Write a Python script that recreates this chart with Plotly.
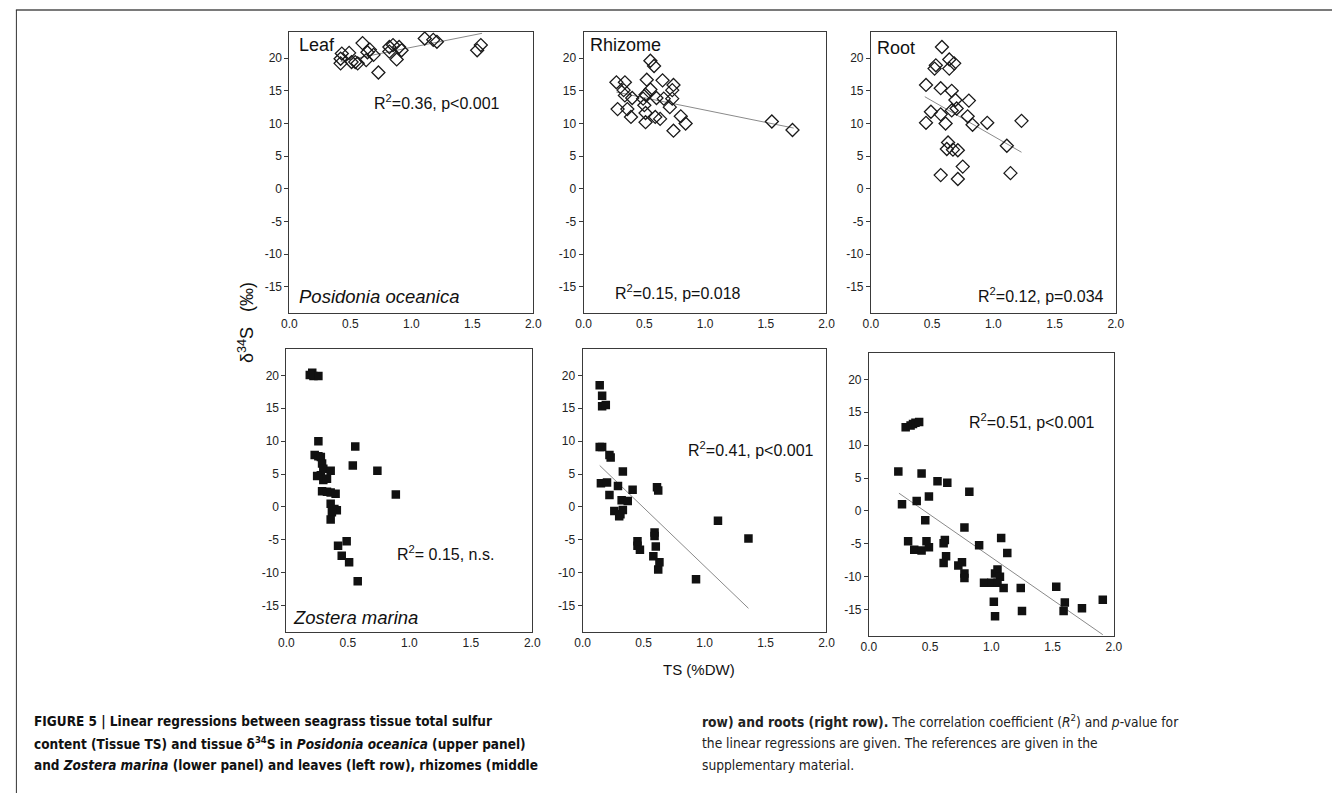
import plotly.graph_objects as go

W, H = 1341, 793

# ---------------- data ----------------
# Posidonia oceanica (open diamonds)
po_leaf_x = [0.43, 0.42, 0.42, 0.49, 0.51, 0.54, 0.60, 0.63, 0.66, 0.69, 0.73, 0.82, 0.82, 0.85, 0.88, 0.90, 0.92, 1.11, 1.18, 1.21, 1.54, 1.57, 0.56, 0.64]
po_leaf_y = [20.7, 19.2, 19.9, 20.8, 19.4, 19.4, 22.3, 19.7, 21.3, 20.5, 17.8, 21.7, 21.0, 22.0, 19.8, 21.7, 21.2, 23.0, 22.8, 22.5, 21.2, 22.0, 19.2, 20.9]
po_leaf_fit_x = [0.42, 1.58]
po_leaf_fit_y = [19.5, 23.8]

po_rhiz_x = [0.27, 0.34, 0.33, 0.34, 0.28, 0.36, 0.39, 0.40, 0.55, 0.58, 0.52, 0.55, 0.51, 0.49, 0.50, 0.51, 0.51, 0.59, 0.63, 0.60, 0.65, 0.66, 0.73, 0.74, 0.73, 0.71, 0.74, 0.80, 0.84, 1.55, 1.72]
po_rhiz_y = [16.3, 16.3, 15.1, 14.3, 12.2, 12.2, 11.0, 13.9, 19.6, 18.8, 16.7, 15.2, 14.4, 13.8, 12.8, 11.6, 10.2, 11.0, 10.7, 13.9, 16.6, 13.8, 15.1, 15.9, 13.8, 12.5, 8.9, 11.1, 10.0, 10.3, 9.0]
po_rhiz_fit_x = [0.27, 1.73]
po_rhiz_fit_y = [14.8, 9.3]

po_root_x = [0.58, 0.64, 0.68, 0.53, 0.52, 0.64, 0.45, 0.57, 0.66, 0.69, 0.80, 0.49, 0.45, 0.57, 0.61, 0.66, 0.70, 0.79, 0.83, 0.95, 1.23, 1.11, 0.63, 0.62, 0.67, 0.71, 0.75, 0.57, 0.71, 1.14]
po_root_y = [21.7, 19.8, 19.2, 18.9, 18.4, 18.4, 15.9, 15.4, 15.0, 13.6, 13.5, 11.8, 10.1, 11.4, 10.0, 12.0, 12.3, 11.1, 9.8, 10.1, 10.4, 6.6, 7.1, 6.1, 6.0, 5.9, 3.4, 2.1, 1.5, 2.4]
po_root_fit_x = [0.44, 1.23]
po_root_fit_y = [14.1, 5.6]

# Zostera marina (filled squares)
zm_leaf_x = [0.21, 0.22, 0.26, 0.19, 0.26, 0.56, 0.23, 0.26, 0.28, 0.29, 0.30, 0.28, 0.25, 0.30, 0.33, 0.36, 0.54, 0.74, 0.89, 0.29, 0.33, 0.36, 0.40, 0.36, 0.39, 0.41, 0.37, 0.36, 0.42, 0.49, 0.45, 0.51, 0.58]
zm_leaf_y = [20.4, 19.9, 19.9, 20.05, 10.0, 9.2, 7.9, 7.7, 7.6, 6.6, 5.8, 4.8, 4.7, 4.1, 4.3, 5.5, 6.3, 5.5, 1.9, 2.4, 2.3, 2.2, 2.0, 0.5, -0.3, -0.5, -0.8, -1.9, -5.9, -5.2, -7.4, -8.4, -11.3]

zm_rhiz_x = [0.14, 0.16, 0.16, 0.19, 0.14, 0.16, 0.22, 0.23, 0.15, 0.20, 0.33, 0.29, 0.22, 0.32, 0.37, 0.41, 0.26, 0.31, 0.33, 0.30, 0.61, 0.62, 0.45, 0.45, 0.47, 0.59, 0.59, 0.60, 0.58, 0.62, 0.63, 1.11, 1.36, 0.93]
zm_rhiz_y = [18.5, 16.9, 15.3, 15.5, 9.1, 9.1, 7.9, 7.5, 3.6, 3.7, 5.4, 3.2, 1.8, 1.0, 0.9, 2.6, -0.6, -1.1, -0.45, -1.4, 3.0, 2.5, -5.2, -5.9, -6.5, -3.9, -4.4, -6.0, -7.5, -9.5, -8.4, -2.1, -4.8, -11.0]
zm_rhiz_fit_x = [0.14, 1.36]
zm_rhiz_fit_y = [6.3, -15.4]

zm_root_x = [0.30, 0.34, 0.36, 0.38, 0.41, 0.24, 0.27, 0.43, 0.56, 0.64, 0.82, 0.39, 0.49, 0.46, 0.78, 0.32, 0.37, 0.43, 0.47, 0.49, 0.62, 0.61, 0.63, 0.61, 0.73, 0.76, 0.78, 0.78, 0.90, 1.08, 1.13, 0.94, 1.00, 1.03, 1.05, 1.07, 1.05, 1.10, 1.24, 1.02, 1.03, 1.25, 1.53, 1.60, 1.59, 1.74, 1.91]
zm_root_y = [12.7, 13.0, 13.2, 13.4, 13.5, 6.0, 1.0, 5.7, 4.5, 4.3, 2.9, 1.5, 2.2, -1.4, -2.5, -4.6, -5.9, -6.0, -4.6, -5.5, -4.4, -4.9, -6.9, -7.9, -8.3, -7.8, -9.5, -10.2, -5.2, -4.1, -6.4, -10.9, -10.9, -9.5, -8.9, -10.0, -10.9, -11.7, -11.7, -13.8, -16.0, -15.2, -11.5, -13.9, -15.2, -14.8, -13.5]
zm_root_fit_x = [0.245, 1.91]
zm_root_fit_y = [2.7, -18.8]

x_ticks = [0.0, 0.5, 1.0, 1.5, 2.0]
x_tick_labels = ["0.0", "0.5", "1.0", "1.5", "2.0"]
y_ticks = [-15, -10, -5, 0, 5, 10, 15, 20]
y_tick_labels = ["-15", "-10", "-5", "0", "5", "10", "15", "20"]

# ---------------- layout helpers ----------------
def px_x(v):
    return v / W

def px_y(v):
    return 1 - v / H

# panel boxes in pixels (left, right, top, bottom)
panels = [
    (285, 532, 32, 313),
    (583, 829, 32, 313),
    (874, 1122, 32, 313),
    (282, 531, 349, 632),
    (582, 829, 349, 632),
    (872, 1120, 353, 636),
]

FONT = "Liberation Sans"
AXC = "#3a3a3a"

fig = go.Figure()

diamond = dict(symbol="diamond-open", size=10, color="#1a1a1a", line=dict(width=1.3, color="#1a1a1a"))
square = dict(symbol="square", size=8.5, color="#111111", line=dict(width=0))
fitline = dict(color="#8a8a8a", width=1)

series = [
    (po_leaf_x, po_leaf_y, diamond, po_leaf_fit_x, po_leaf_fit_y),
    (po_rhiz_x, po_rhiz_y, diamond, po_rhiz_fit_x, po_rhiz_fit_y),
    (po_root_x, po_root_y, diamond, po_root_fit_x, po_root_fit_y),
    (zm_leaf_x, zm_leaf_y, square, None, None),
    (zm_rhiz_x, zm_rhiz_y, square, zm_rhiz_fit_x, zm_rhiz_fit_y),
    (zm_root_x, zm_root_y, square, zm_root_fit_x, zm_root_fit_y),
]

for i, (xs, ys, mk, fx, fy) in enumerate(series):
    n = "" if i == 0 else str(i + 1)
    if fx is not None:
        fig.add_trace(go.Scatter(x=fx, y=fy, mode="lines", line=fitline,
                                 xaxis="x" + n, yaxis="y" + n, showlegend=False, hoverinfo="skip"))
    fig.add_trace(go.Scatter(x=xs, y=ys, mode="markers", marker=mk,
                             xaxis="x" + n, yaxis="y" + n, showlegend=False))

layout = dict(
    width=W, height=H,
    margin=dict(l=0, r=0, t=0, b=0),
    paper_bgcolor="white", plot_bgcolor="white",
    font=dict(family=FONT, color="#222222"),
)

for i, (l, r, t, b) in enumerate(panels):
    n = "" if i == 0 else str(i + 1)
    layout["xaxis" + n] = dict(
        domain=[px_x(l), px_x(r)], range=[0, 2], anchor="y" + n,
        tickvals=x_ticks, ticktext=x_tick_labels, ticks="", showgrid=False, zeroline=False,
        showline=True, linecolor=AXC, linewidth=1, mirror=True,
        tickfont=dict(size=12, family=FONT, color="#222"), fixedrange=True,
    )
    layout["yaxis" + n] = dict(
        domain=[px_y(b), px_y(t)], range=[-19, 24], anchor="x" + n,
        tickvals=y_ticks, ticktext=y_tick_labels, ticks="outside", ticklen=4, tickcolor=AXC,
        showgrid=False, zeroline=False,
        showline=True, linecolor=AXC, linewidth=1, mirror=True,
        tickfont=dict(size=12, family=FONT, color="#222"), fixedrange=True,
    )

fig.update_layout(**layout)

# ---------------- panel annotations ----------------
def ann(n, x, y, text, size=14, italic=False):
    if italic:
        text = "<i>" + text + "</i>"
    fig.add_annotation(x=x, y=y, xref="x" + n, yref="y" + n, text=text, showarrow=False,
                       xanchor="left", yanchor="middle", font=dict(size=size, family=FONT, color="#111"))

ann("", 0.06, 22.0, "Leaf", 18)
ann("", 0.06, -16.5, "Posidonia oceanica", 18.5, italic=True)
ann("", 0.68, 13.3, "R<sup>2</sup>=0.36, p<0.001", 16)
ann("2", 0.04, 22.0, "Rhizome", 18)
ann("2", 0.24, -15.8, "R<sup>2</sup>=0.15, p=0.018", 16)
ann("3", 0.03, 21.6, "Root", 18)
ann("3", 0.86, -16.2, "R<sup>2</sup>=0.12, p=0.034", 16)
ann("4", 0.88, -7.0, "R<sup>2</sup>= 0.15, n.s.", 16)
ann("4", 0.04, -16.8, "Zostera marina", 18.5, italic=True)
ann("5", 0.85, 8.8, "R<sup>2</sup>=0.41, p<0.001", 16)
ann("6", 0.80, 13.7, "R<sup>2</sup>=0.51, p<0.001", 16)

# axis titles
fig.add_annotation(x=px_x(241), y=px_y(322), xref="paper", yref="paper",
                   text="δ<sup>34</sup>S   (‰)", textangle=-90, showarrow=False,
                   xanchor="center", yanchor="middle", font=dict(size=18, family=FONT, color="#111"))
fig.add_annotation(x=px_x(700), y=px_y(669), xref="paper", yref="paper",
                   text="TS (%DW)", showarrow=False,
                   xanchor="center", yanchor="middle", font=dict(size=15, family=FONT, color="#111"))

# ---------------- caption ----------------
CAP = "DejaVu Sans Condensed"
cap_left = [
    "<b>FIGURE 5 | Linear regressions between seagrass tissue total sulfur</b>",
    "<b>content (Tissue TS) and tissue δ<sup>34</sup>S in <i>Posidonia oceanica</i> (upper panel)</b>",
    "<b>and <i>Zostera marina</i> (lower panel) and leaves (left row), rhizomes (middle</b>",
]
cap_right = [
    "<b>row) and roots (right row).</b> The correlation coefficient (<i>R</i><sup>2</sup>) and <i>p</i>-value for",
    "the linear regressions are given. The references are given in the",
    "supplementary material.",
]
cap_y = [721, 743, 765]
for txt, yy in zip(cap_left, cap_y):
    fig.add_annotation(x=px_x(24), y=px_y(yy), xref="paper", yref="paper", text=txt, showarrow=False,
                       xanchor="left", yanchor="middle", font=dict(size=13.5, family=CAP, color="#111"))
for txt, yy in zip(cap_right, cap_y):
    fig.add_annotation(x=px_x(701), y=px_y(yy), xref="paper", yref="paper", text=txt, showarrow=False,
                       xanchor="left", yanchor="middle", font=dict(size=13.7, family=CAP, color="#222"))

# frame lines
fig.add_shape(type="line", xref="paper", yref="paper", x0=px_x(8), x1=1.0, y0=px_y(10), y1=px_y(10),
              line=dict(color="#7a7a7a", width=2))
fig.add_shape(type="line", xref="paper", yref="paper", x0=px_x(8.5), x1=px_x(8.5), y0=px_y(10), y1=0,
              line=dict(color="#333333", width=1))

fig.write_html("out.html", config={"displayModeBar": False},
               post_script="document.body.style.margin='0';document.body.style.overflow='hidden';")
